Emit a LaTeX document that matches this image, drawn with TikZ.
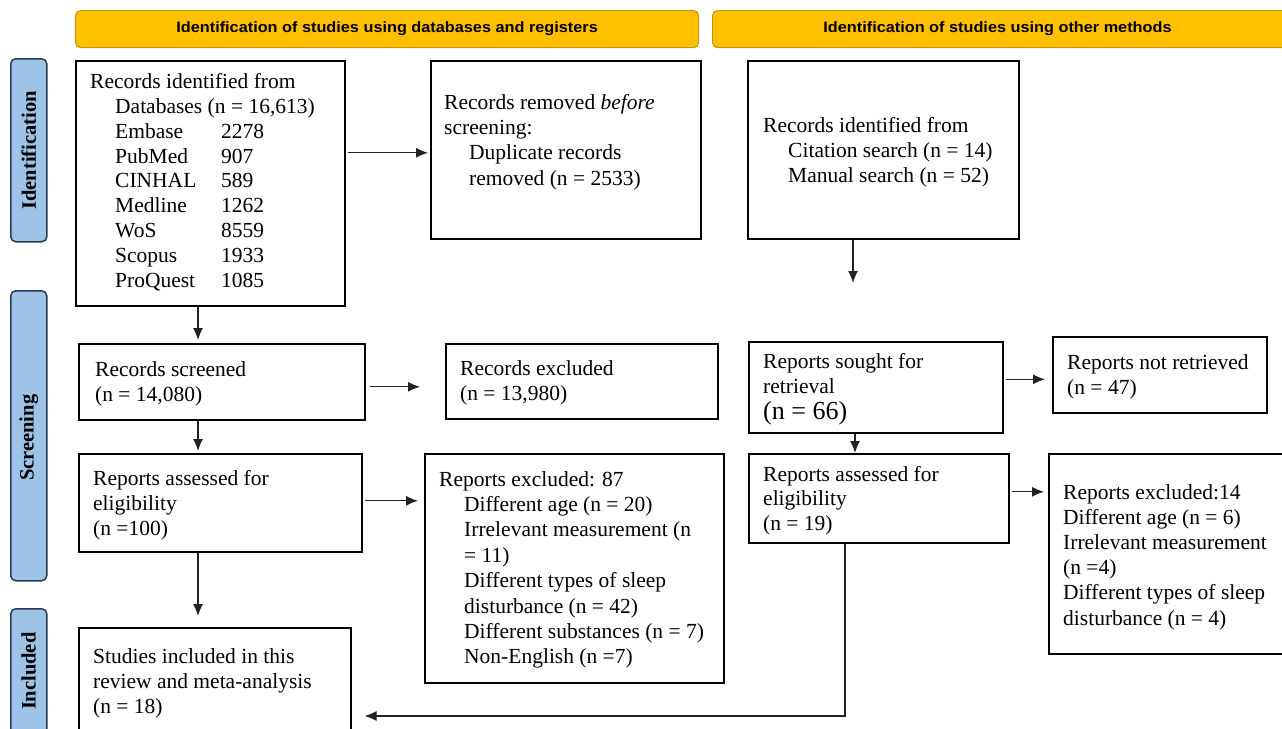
\documentclass[tikz,border=0pt]{standalone}
\usepackage{graphicx}
\usepackage{fontspec}
\setmainfont{Liberation Serif}
\newfontfamily\hdrfont{Liberation Sans}
\usetikzlibrary{arrows.meta}
\definecolor{hdrfill}{HTML}{FFC000}
\definecolor{hdrborder}{HTML}{C99700}
\definecolor{sidefill}{HTML}{9DC3E6}
\definecolor{sideborder}{HTML}{2A3B55}
\definecolor{arrcol}{HTML}{222222}
\begin{document}
\begin{tikzpicture}[x=1pt,y=-1pt,
 box/.style={draw,line width=1.6pt,anchor=north west,inner sep=0pt},
 txt/.style={anchor=north west,align=left,inner sep=0pt,font=\fontsize{21.5}{25.3}\selectfont},
 hdr/.style={draw=hdrborder,fill=hdrfill,rounded corners=5pt,line width=1.2pt,anchor=north west,inner sep=0pt},
 hdrtxt/.style={inner sep=0pt,font=\hdrfont\bfseries\fontsize{15}{17}\selectfont},
 side/.style={draw=sideborder,fill=sidefill,rounded corners=5pt,line width=1.5pt,anchor=north west,inner sep=0pt},
 sidetxt/.style={rotate=90,font=\bfseries\fontsize{20.5}{22}\selectfont},
 arr/.style={draw=arrcol,-{Latex[length=12pt,width=10pt]},line width=1.2pt}
]
\useasboundingbox (0,0) rectangle (1282,728);
\clip (0,0) rectangle (1282,728);

% headers
\node[hdr,minimum width=623pt,minimum height=37pt] (h1) at (75,10) {};
\node[hdrtxt] (h1t) at (h1.center) {\scalebox{1.085}[1]{Identification of studies using databases and registers}};
\node[hdr,minimum width=600pt,minimum height=37pt] (h2) at (712,10) {};
\node[hdrtxt] (h2t) at (997.5,28.5) {\scalebox{1.085}[1]{Identification of studies using other methods}};

% side labels
\node[side,minimum width=36pt,minimum height=183pt] (sid) at (10,58) {};
\node[sidetxt] at (sid.center) {Identification};
\node[side,minimum width=36pt,minimum height=290pt] (sscr) at (10,290) {};
\node[sidetxt] at ([yshift=-2pt]sscr.center) {Screening};
\node[side,minimum width=36pt,minimum height=125pt] (sinc) at (10,608) {};
\node[sidetxt] at (sinc.center) {Included};

% boxes
\node[box,minimum width=269pt,minimum height=245pt] (rec) at (75,60) {};
\node[box,minimum width=270pt,minimum height=178pt] (rem) at (430,60) {};
\node[box,minimum width=271pt,minimum height=178pt] (oth) at (747,60) {};
\node[box,minimum width=286pt,minimum height=76pt] (scr) at (78,343) {};
\node[box,minimum width=272pt,minimum height=75pt] (exc) at (445,343) {};
\node[box,minimum width=254pt,minimum height=91pt] (sou) at (748,341) {};
\node[box,minimum width=214pt,minimum height=76pt] (nret) at (1052,336) {};
\node[box,minimum width=283pt,minimum height=98pt] (ass) at (78,453) {};
\node[box,minimum width=299pt,minimum height=229pt] (rexc) at (424,453) {};
\node[box,minimum width=260pt,minimum height=89pt] (ass2) at (748,453) {};
\node[box,minimum width=250pt,minimum height=200pt] (rexc2) at (1048,453) {};
\node[box,minimum width=272pt,minimum height=110pt] (inc) at (78,627) {};

% texts
\node[txt,font=\fontsize{21.5}{24.9}\selectfont] (t1) at (90,73) {Records identified from\\
\hspace*{25pt}Databases (n = 16,613)\\
\hspace*{25pt}\makebox[106pt][l]{Embase}2278\\
\hspace*{25pt}\makebox[106pt][l]{PubMed}907\\
\hspace*{25pt}\makebox[106pt][l]{CINHAL}589\\
\hspace*{25pt}\makebox[106pt][l]{Medline}1262\\
\hspace*{25pt}\makebox[106pt][l]{WoS}8559\\
\hspace*{25pt}\makebox[106pt][l]{Scopus}1933\\
\hspace*{25pt}\makebox[106pt][l]{ProQuest}1085};
\node[txt] (t2) at (444,94) {Records removed \textit{before}\\screening:\\
\hspace*{25pt}Duplicate records\\\hspace*{25pt}removed (n = 2533)};
\node[txt] (t3) at (763,117) {Records identified from\\
\hspace*{25pt}Citation search (n = 14)\\\hspace*{25pt}Manual search (n = 52)};
\node[txt] (t4) at (95,361) {Records screened\\(n = 14,080)};
\node[txt] (t5) at (460,360) {Records excluded\\(n = 13,980)};
\node[txt] (t6) at (763,353) {Reports sought for\\retrieval\\[1pt]{\fontsize{26}{26}\selectfont(n = 66)}};
\node[txt] (t7) at (1067,354) {Reports not retrieved\\(n = 47)};
\node[txt] (t8) at (93,470) {Reports assessed for\\eligibility\\(n =100)};
\node[txt,font=\fontsize{21.5}{25.4}\selectfont] (t9) at (439,471) {Reports excluded: 87\\
\hspace*{25pt}Different age (n = 20)\\
\hspace*{25pt}Irrelevant measurement (n\\
\hspace*{25pt}= 11)\\
\hspace*{25pt}Different types of sleep\\
\hspace*{25pt}disturbance (n = 42)\\
\hspace*{25pt}Different substances (n = 7)\\
\hspace*{25pt}Non-English (n =7)};
\node[txt,font=\fontsize{21.5}{24.5}\selectfont] (t10) at (763,466) {Reports assessed for\\eligibility\\(n = 19)};
\node[txt,font=\fontsize{21.5}{25.2}\selectfont] (t11) at (1063,484) {Reports excluded:14\\Different age (n = 6)\\Irrelevant measurement\\(n =4)\\Different types of sleep\\disturbance (n = 4)};
\node[txt] (t12) at (93,648) {Studies included in this\\review and meta-analysis\\(n = 18)};

% connectors
\coordinate (othend) at (853,283);
\coordinate (turn) at (845,716);
\draw[arr,shorten <=2pt,shorten >=2pt] ([yshift=-3pt]rec.east |- rem.west) -- ([yshift=-3pt]rem.west);
\draw[arr] (othend |- oth.south) -- (othend);
\draw[arr,shorten >=3pt] ([xshift=123pt]rec.south west) -- ([xshift=120pt]scr.north west);
\draw[arr,shorten <=4pt,shorten >=25pt] ([yshift=-5pt]scr.east) -- ([yshift=-5pt]scr.east -| exc.west);
\draw[arr,shorten >=2pt] ([xshift=120pt]scr.south west) -- ([xshift=120pt]ass.north west);
\draw[arr,shorten <=2pt,shorten >=6pt] ([yshift=2pt]ass.east) -- ([yshift=2pt]ass.east -| rexc.west);
\draw[arr,shorten >=11pt] ([xshift=120pt]ass.south west) -- ([xshift=120pt]inc.north west);
\draw[arr,shorten <=2pt,shorten >=7pt] ([yshift=8pt]sou.east) -- ([yshift=8pt]sou.east -| nret.west);
\draw[arr] ([xshift=107pt]sou.south west) -- ([xshift=107pt]ass2.north west);
\draw[arr,shorten <=2pt,shorten >=4pt] ([yshift=6.5pt]ass2.east) -- ([yshift=6.5pt]ass2.east -| rexc2.west);
\draw[arr,shorten >=13pt] ([xshift=97pt]ass2.south west) -- (turn) -- (inc.east |- turn);
\end{tikzpicture}
\end{document}
